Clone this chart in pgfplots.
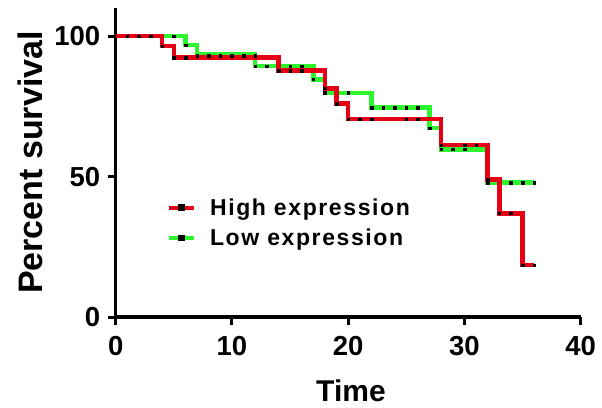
\documentclass[border=0pt]{standalone}
\usepackage{fontspec}
\setmainfont{Liberation Sans}
\usepackage{pgfplots}
\pgfplotsset{compat=1.18}
\definecolor{hired}{RGB}{230,0,22}
\definecolor{logreen}{RGB}{45,245,45}
\begin{document}
\begin{tikzpicture}
\begin{axis}[
  at={(0pt,0pt)}, anchor=origin,
  scale only axis, width=465pt, height=309pt,
  xmin=0, xmax=40, ymin=0, ymax=110,
  axis x line=bottom, axis y line=left,
  axis line style={-, line width=3.5pt, black},
  xtick={0,10,20,30,40}, ytick={0,50,100},
  minor tick num=0,
  tick align=outside, major tick length=8pt,
  tick style={line width=3pt, black},
  /pgf/number format/assume math mode=true,
  ticklabel style={font=\fontsize{27.5}{30}\selectfont\bfseries},
  xticklabel style={yshift=-8pt},
  yticklabel style={xshift=-4pt},
  xlabel={Time}, ylabel={Percent survival},
  xlabel style={font=\fontsize{30}{34}\selectfont\bfseries, anchor=base, at={(axis description cs:0.506,-0.272)}},
  ylabel style={font=\fontsize{34}{38}\selectfont\bfseries, anchor=base, at={(axis description cs:-0.157,0.5)}},
  clip=false,
  reverse legend,
  legend cell align=left,
  legend image code/.code={\draw[#1] (0pt,0pt) -- (25pt,0pt); \fill[black] (11pt,-1.1pt) rectangle (14pt,1.1pt); \path (37pt,0pt);},
  legend style={at={(axis cs:4.1,33.5)}, anchor=west, draw=none, fill=none, row sep=8pt,
    font=\fontsize{23}{26}\selectfont\bfseries\addfontfeature{LetterSpace=7}},
]
\addplot[const plot, logreen, line width=4.5pt] coordinates {
(0,100) (6,96.8) (7,93.5) (12,89.3) (17,84.6) (18,79.8) (22,74.6) (27,67.2) (28,59.7) (32,47.8) (36,47.8)};
\addlegendentry{Low expression}
\addplot[const plot, hired, line width=4.5pt] coordinates {
(0,100) (4,96.4) (5,92.3) (14,87.7) (18,81.4) (19,76.0) (20,70.4) (28,61.2) (32,49.0) (33,36.9) (35,18.5) (36,18.5)};
\addlegendentry{High expression}
\addplot[only marks, mark=square*, mark size=1.3pt, black, forget plot] coordinates {
(1,100)(2,100)(3,100)(4,96.4)(5,92.3)(6,92.3)(14,87.7)(15,87.7)(16,87.7)(18,81.4)(19,76.0)(20,70.4)(21,70.4)(22,70.4)(25,70.4)(26,70.4)(28,61.2)(30,61.2)(31,61.2)(32,49.0)(33,36.9)(34,36.9)(35,18.5)(36,18.5)};
\addplot[only marks, mark=square*, mark size=1.3pt, black, forget plot] coordinates {
(5,100)(6,96.8)(7,93.0)(8,93.0)(9,93.0)(10,93.0)(11,93.0)(12,93.0)(12,89.3)(13,89.3)(15,89.3)(16,89.3)(17,84.6)(18,79.8)(20,79.8)(22,74.6)(23,74.6)(24,74.6)(25,74.6)(26,74.6)(27,67.2)(28,59.7)(29,59.7)(30,59.7)(32,47.8)(34,47.8)(35,47.8)(36,47.8)};
\end{axis}
\pgfresetboundingbox
\path[use as bounding box] (-115.7pt,-90pt) rectangle (486.3pt,317pt);
\end{tikzpicture}
\end{document}
